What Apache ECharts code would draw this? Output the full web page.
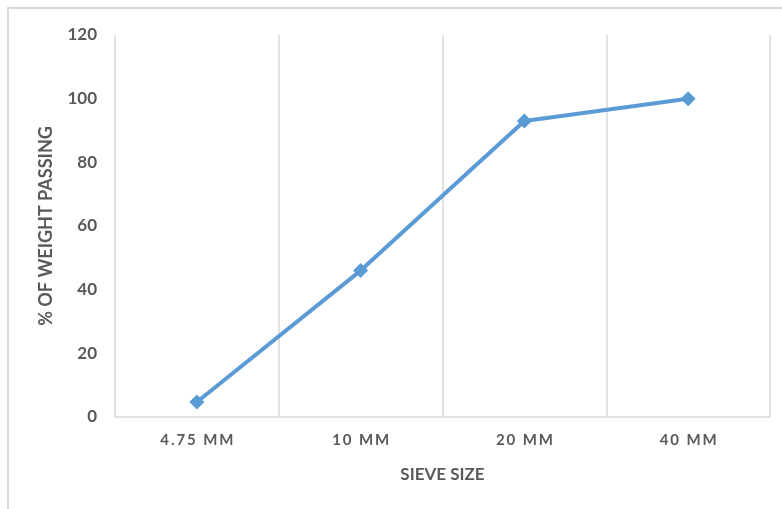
<!DOCTYPE html>
<html>
<head>
<meta charset="utf-8">
<script src="https://cdn.jsdelivr.net/npm/echarts@6/dist/echarts.min.js"></script>
<style>
  html, body { margin: 0; padding: 0; background: #fff; }
  #chart { width: 782px; height: 509px; }
</style>
</head>
<body>
<div id="chart"></div>
<script>
// sieve sizes and % passing
const sieveSizes = ['4.75 MM', '10 MM', '20 MM', '40 MM'];
const percentPassing = [4.7, 46, 93, 100];
const yTicks = [0, 20, 40, 60, 80, 100, 120];

// spread out the letters a bit like the original labels
function spaced(s) {
  return s.split(' ').map(w => w.split('').join('\u2009')).join('\u2002');
}

let chart = echarts.init(document.getElementById('chart'));
let option = {
  backgroundColor: '#fff',
  animation: false,
  graphic: [
    {
      type: 'rect',
      shape: { x: 8, y: 8, width: 800, height: 520 },
      style: { fill: 'none', stroke: '#d9d9d9', lineWidth: 2 },
      z: -1
    }
  ],
  grid: { left: 115, right: 12, top: 35, bottom: 92 },
  xAxis: {
    type: 'category',
    data: sieveSizes,
    boundaryGap: true,
    name: 'SIEVE SIZE',
    nameLocation: 'middle',
    nameGap: 49,
    nameTextStyle: { color: '#595959', fontSize: 17, fontWeight: 'bold', fontFamily: 'Lato' },
    axisLine: { lineStyle: { color: '#d9d9d9', width: 1.5 } },
    axisTick: { show: false },
    splitLine: { show: true, lineStyle: { color: '#d9d9d9', width: 1.5 } },
    axisLabel: {
      color: '#595959', fontSize: 15, fontWeight: 'bold', fontFamily: 'Lato',
      margin: 16, formatter: spaced
    }
  },
  yAxis: {
    type: 'value',
    min: yTicks[0],
    max: yTicks[yTicks.length - 1],
    interval: 20,
    name: '% OF WEIGHT PASSING',
    nameLocation: 'middle',
    nameGap: 60,
    nameRotate: 90,
    nameTextStyle: { color: '#595959', fontSize: 18, fontWeight: 'bold', fontFamily: 'Lato' },
    axisLine: { show: false },
    axisTick: { show: false },
    splitLine: { show: false },
    axisLabel: { color: '#595959', fontSize: 17, fontWeight: 'bold', fontFamily: 'Lato', margin: 18 }
  },
  series: [
    {
      type: 'line',
      data: percentPassing,
      symbol: 'diamond',
      symbolSize: 15,
      lineStyle: { color: '#5b9bd5', width: 4 },
      itemStyle: { color: '#5b9bd5' }
    }
  ]
};
chart.setOption(option);
</script>
</body>
</html>
